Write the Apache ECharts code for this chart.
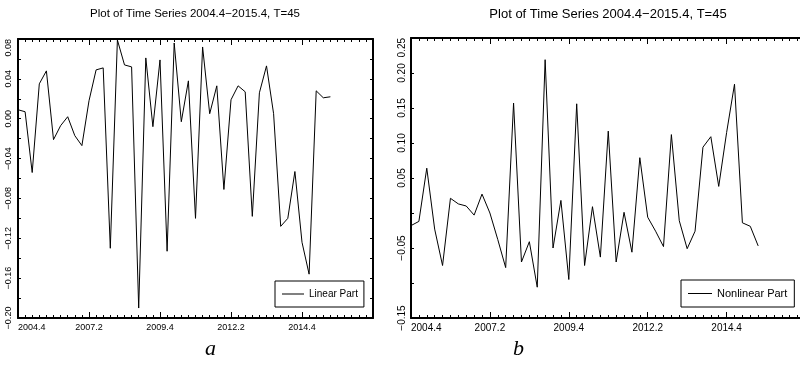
<!DOCTYPE html>
<html><head><meta charset="utf-8">
<script src="https://cdn.jsdelivr.net/npm/echarts@6/dist/echarts.min.js"></script>
<style>html,body{margin:0;padding:0;background:#fff;overflow:hidden}#c{width:800px;height:368px}</style>
</head><body><div id="c"></div>
<script>
const titleText = 'Plot of Time Series 2004.4\u22122015.4, T=45';
// x tick labels every 10 quarters, starting at 2004.4 (index 0)
const xTickLabels = ['2004.4', '2007.2', '2009.4', '2012.2', '2014.4', ''];
// Linear part, quarterly 2004.4 .. 2015.4 (45 values)
const linearPart = [
  0.009, 0.007, -0.054, 0.035, 0.048, -0.021, -0.007, 0.002, -0.017, -0.027,
  0.018, 0.049, 0.051, -0.130, 0.079, 0.054, 0.052, -0.190, 0.061, -0.008,
  0.059, -0.133, 0.076, -0.003, 0.038, -0.100, 0.072, 0.005, 0.033, -0.071,
  0.019, 0.033, 0.027, -0.098, 0.026, 0.053, 0.005, -0.108, -0.100, -0.053,
  -0.124, -0.156, 0.028, 0.021, 0.022
];
// Nonlinear part
const nonlinearPart = [
  -0.018, -0.012, 0.064, -0.023, -0.075, 0.021, 0.013, 0.010, -0.003, 0.027,
  0.000, -0.038, -0.078, 0.157, -0.070, -0.041, -0.106, 0.219, -0.050, 0.018,
  -0.095, 0.156, -0.075, 0.009, -0.063, 0.117, -0.070, 0.001, -0.056, 0.079,
  -0.006, -0.026, -0.048, 0.112, -0.011, -0.051, -0.026, 0.094, 0.109, 0.038,
  0.115, 0.184, -0.014, -0.019, -0.047
];
const rightYLabels = ['0.25', '0.20', '0.15', '0.10', '0.05', '\u22120.05', '\u22120.15'];

const FONT = '"Liberation Sans", Arial, sans-serif';
const fmtNum = v => (v < -1e-9 ? '\u2212' : '') + Math.abs(v).toFixed(2);

function xAxesFor(g, fs, max) {
  const base = {
    type: 'value', gridIndex: g, min: 0, max: max, interval: 10,
    axisLine: { show: true, onZero: false, lineStyle: { color: '#000', width: 2 } },
    axisTick: { show: true, inside: true, length: 6, lineStyle: { color: '#000', width: 1 } },
    minorTick: { show: true, splitNumber: 10, length: 3, lineStyle: { color: '#000', width: 1 } },
    splitLine: { show: false }, minorSplitLine: { show: false }
  };
  return [
    Object.assign({}, base, { position: 'bottom',
      axisLabel: { show: true, margin: 5, color: '#000', fontSize: fs, fontFamily: FONT,
        alignMinLabel: 'left', showMaxLabel: false,
        formatter: v => xTickLabels[Math.round(v / 10)] || '' } }),
    Object.assign({}, base, { position: 'top', axisLabel: { show: false } })
  ];
}
function yAxesFor(g, min, max, interval, fs, labelFn, margin, showRight) {
  const base = {
    type: 'value', gridIndex: g, min: min, max: max, interval: interval,
    axisLine: { show: true, onZero: false, lineStyle: { color: '#000', width: 2 } },
    axisTick: { show: true, inside: true, length: 3, lineStyle: { color: '#000', width: 1 } },
    splitLine: { show: false }
  };
  return [
    Object.assign({}, base, { position: 'left',
      axisLabel: { show: true, rotate: 90, margin: margin, color: '#000', fontSize: fs, fontFamily: FONT,
        alignMaxLabel: 'right', formatter: labelFn } }),
    Object.assign({}, base, { position: 'right', show: showRight, axisLabel: { show: false } })
  ];
}

const xs = [].concat(xAxesFor(0, 9, 50), xAxesFor(1, 10, 49.3));
const ys = [].concat(
  yAxesFor(0, -0.20, 0.08, 0.02, 9, v => (Math.round(v * 100) % 4 === 0 ? fmtNum(v) : ''), 5, true),
  yAxesFor(1, -0.15, 0.25, 0.05, 10, v => (rightYLabels.indexOf(fmtNum(v)) >= 0 ? fmtNum(v) : ''), 4, false)
);

const chart = echarts.init(document.getElementById('c'), null, { renderer: 'canvas' });
chart.setOption({
  animation: false,
  backgroundColor: '#fff',
  title: [
    { text: titleText, left: 195, top: 8, textAlign: 'center', padding: 0,
      textStyle: { fontSize: 11.5, fontWeight: 'normal', color: '#000', fontFamily: FONT } },
    { text: titleText, left: 608, top: 8, textAlign: 'center', padding: 0,
      textStyle: { fontSize: 13, fontWeight: 'normal', color: '#000', fontFamily: FONT } }
  ],
  legend: [
    { data: ['Linear Part'], left: 275, top: 281, padding: [8, 6, 8, 7], itemWidth: 22, itemHeight: 1,
      icon: 'rect', borderColor: '#000', borderWidth: 1, borderRadius: 0,
      textStyle: { fontSize: 10, color: '#000', fontFamily: FONT } },
    { data: ['Nonlinear Part'], left: 681, top: 280, padding: [8, 7, 8, 7], itemWidth: 24, itemHeight: 1,
      icon: 'rect', borderColor: '#000', borderWidth: 1, borderRadius: 0,
      textStyle: { fontSize: 11, color: '#000', fontFamily: FONT } }
  ],
  grid: [
    { left: 18, top: 39, width: 355, height: 279, containLabel: false },
    { left: 411, top: 38, width: 389, height: 280, containLabel: false }
  ],
  xAxis: xs,
  yAxis: ys,
  series: [
    { name: 'Linear Part', type: 'line', xAxisIndex: 0, yAxisIndex: 0, symbol: 'none',
      color: '#000', lineStyle: { color: '#000', width: 1 },
      data: linearPart.map((v, i) => [i, v]) },
    { name: 'Nonlinear Part', type: 'line', xAxisIndex: 2, yAxisIndex: 2, symbol: 'none',
      color: '#000', lineStyle: { color: '#000', width: 1 },
      data: nonlinearPart.map((v, i) => [i, v]) }
  ],
  graphic: [
    { type: 'text', left: 205, top: 338, style: { text: 'a', fill: '#000',
      font: 'italic 22px "Liberation Serif", "Times New Roman", serif' } },
    { type: 'text', left: 513, top: 338, style: { text: 'b', fill: '#000',
      font: 'italic 22px "Liberation Serif", "Times New Roman", serif' } }
  ]
});
</script>
</body></html>
